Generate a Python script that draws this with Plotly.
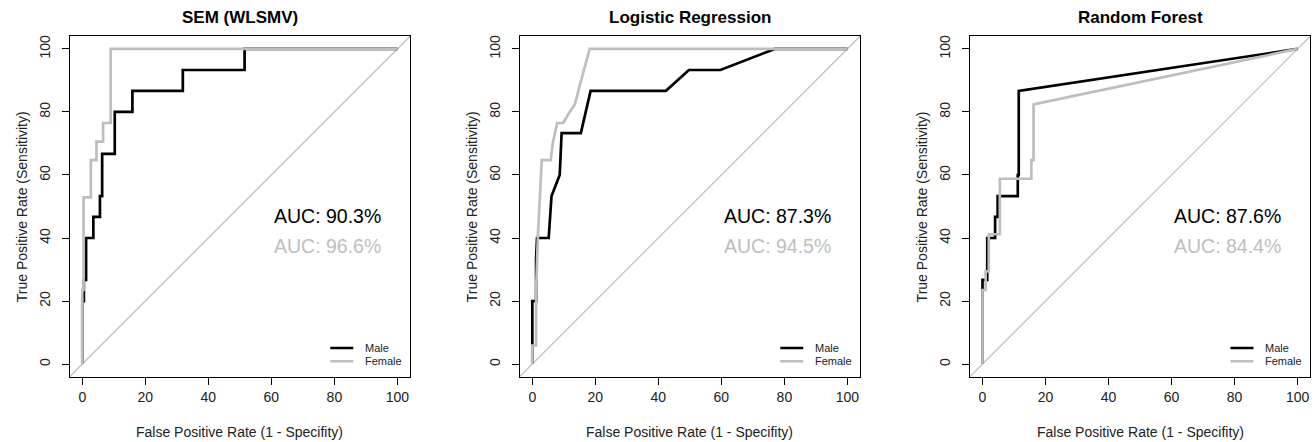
import plotly.graph_objects as go

# ---------------- data ----------------
MODELS = ["SEM (WLSMV)", "Logistic Regression", "Random Forest"]
GROUPS = ["Male", "Female"]
AUC_MALE = [90.3, 87.3, 87.6]
AUC_FEMALE = [96.6, 94.5, 84.4]
TICKS = [0, 20, 40, 60, 80, 100]

SEM_MALE_FPR = [0, 0, 0.5, 0.5, 1.2, 1.2, 3.5, 3.5, 5.6, 5.6, 6.3, 6.3, 10.3, 10.3, 15.9, 15.9, 31.9, 31.9, 51.5, 51.5, 100]
SEM_MALE_TPR = [0, 20, 20, 26.7, 26.7, 40, 40, 46.7, 46.7, 53.3, 53.3, 66.7, 66.7, 80, 80, 86.7, 86.7, 93.3, 93.3, 100, 100]
SEM_FEMALE_FPR = [0, 0, 0.4, 0.4, 2.7, 2.7, 4.5, 4.5, 6.6, 6.6, 9.0, 9.0, 100]
SEM_FEMALE_TPR = [0, 23.5, 23.5, 52.9, 52.9, 64.7, 64.7, 70.6, 70.6, 76.5, 76.5, 100, 100]

LR_MALE_FPR = [0, 0, 1.2, 1.2, 1.5, 5.2, 6.1, 8.7, 9.3, 15.4, 18.5, 42.4, 49.7, 59.7, 77.0, 100]
LR_MALE_TPR = [0, 20, 20, 33.3, 40, 40, 53.3, 60, 73.3, 73.3, 86.7, 86.7, 93.3, 93.3, 100, 100]
LR_FEMALE_FPR = [0, 0, 1.2, 1.2, 1.8, 2.4, 3.0, 5.8, 6.6, 7.9, 9.8, 11.5, 13.5, 15.0, 18.2, 100]
LR_FEMALE_TPR = [0, 5.9, 5.9, 23.5, 41.2, 52.9, 64.7, 64.7, 70.6, 76.5, 76.5, 79.4, 82.4, 88.2, 100, 100]

RF_MALE_FPR = [0, 0, 1.5, 1.5, 4.0, 4.0, 4.8, 4.8, 11.2, 11.2, 11.5, 11.5, 100]
RF_MALE_TPR = [0, 26.7, 26.7, 40, 40, 46.7, 46.7, 53.3, 53.3, 60, 60, 86.7, 100]
RF_FEMALE_FPR = [0, 0, 1.0, 1.0, 2.0, 2.0, 5.5, 5.5, 15.5, 15.5, 16.2, 16.2, 100]
RF_FEMALE_TPR = [0, 23.5, 23.5, 29.4, 29.4, 41.2, 41.2, 58.8, 58.8, 64.7, 64.7, 82.4, 100]

CURVES = [
    ((SEM_MALE_FPR, SEM_MALE_TPR), (SEM_FEMALE_FPR, SEM_FEMALE_TPR)),
    ((LR_MALE_FPR, LR_MALE_TPR), (LR_FEMALE_FPR, LR_FEMALE_TPR)),
    ((RF_MALE_FPR, RF_MALE_TPR), (RF_FEMALE_FPR, RF_FEMALE_TPR)),
]

# ---------------- style ----------------
W, H = 1315, 442
FONT = "Liberation Sans, Arial, Helvetica, sans-serif"
COLORS = {"Male": "#000000", "Female": "#BEBEBE"}
RANGE = [-4, 104]
BOX_LEFT = [69.7, 519.7, 969.9]
BOX_W = 340.3
BOX_TOP, BOX_BOTTOM = 36.3, 376.7

fig = go.Figure()
annotations = []
shapes = []

for i, model in enumerate(MODELS):
    k = "" if i == 0 else str(i + 1)
    xa, ya = "x" + k, "y" + k
    x0 = BOX_LEFT[i] / W
    x1 = (BOX_LEFT[i] + BOX_W) / W
    fig.update_layout(**{
        "xaxis" + k: dict(domain=[x0, x1], range=RANGE, tickvals=TICKS, ticks="outside", ticklen=7,
                          tickwidth=1, tickcolor="#000", showline=True, mirror=True, linecolor="#000",
                          linewidth=1, showgrid=False, zeroline=False, anchor=ya,
                          tickfont=dict(size=14, color="#222", family=FONT)),
        "yaxis" + k: dict(domain=[1 - BOX_BOTTOM / H, 1 - BOX_TOP / H], range=RANGE, tickvals=TICKS,
                          ticks="outside", ticklen=7, tickwidth=1, tickcolor="#000", showline=True,
                          mirror=True, linecolor="#000", linewidth=1, showgrid=False, zeroline=False,
                          anchor=xa, tickangle=-90, ticklabelstandoff=6,
                          tickfont=dict(size=14, color="#222", family=FONT)),
    })
    # chance diagonal
    fig.add_trace(go.Scatter(x=RANGE, y=RANGE, mode="lines", xaxis=xa, yaxis=ya,
                             line=dict(color="#BEBEBE", width=1.2), showlegend=False, hoverinfo="skip"))
    for g, (fx, ty) in zip(GROUPS, CURVES[i]):
        fig.add_trace(go.Scatter(x=fx, y=ty, mode="lines", name=g, xaxis=xa, yaxis=ya,
                                 line=dict(color=COLORS[g], width=2.7), showlegend=False))
    # AUC text
    annotations.append(dict(x=95.5, y=47.0, xref=xa, yref=ya, text=f"AUC: {AUC_MALE[i]:.1f}%",
                            showarrow=False, xanchor="right", yanchor="middle",
                            font=dict(size=19.5, color="#000", family=FONT)))
    annotations.append(dict(x=95.5, y=37.4, xref=xa, yref=ya, text=f"AUC: {AUC_FEMALE[i]:.1f}%",
                            showarrow=False, xanchor="right", yanchor="middle",
                            font=dict(size=19.5, color="#BEBEBE", family=FONT)))
    # legend (bottom right)
    for j, (g, ly) in enumerate(zip(GROUPS, [5.1, 0.9])):
        shapes.append(dict(type="line", xref=xa, yref=ya, x0=78.7, x1=86.0, y0=ly, y1=ly,
                           line=dict(color=COLORS[g], width=2.6)))
        annotations.append(dict(x=89.0, y=ly, xref=xa, yref=ya, text=g, showarrow=False,
                                xanchor="left", yanchor="middle",
                                font=dict(size=11, color="#222", family=FONT)))
    # panel title
    cx = (BOX_LEFT[i] + BOX_W / 2) / W
    annotations.append(dict(x=cx, y=1 - 18 / H, xref="paper", yref="paper", text=f"<b>{model}</b>",
                            showarrow=False, xanchor="center", yanchor="middle",
                            font=dict(size=17, color="#000", family=FONT)))
    # axis titles
    annotations.append(dict(x=cx, y=1 - 431.5 / H, xref="paper", yref="paper",
                            text="False Positive Rate (1 - Specifity)", showarrow=False,
                            xanchor="center", yanchor="middle",
                            font=dict(size=14, color="#222", family=FONT)))
    annotations.append(dict(x=(BOX_LEFT[i] - 48) / W, y=1 - (BOX_TOP + BOX_BOTTOM) / 2 / H,
                            xref="paper", yref="paper", text="True Positive Rate (Sensitivity)",
                            showarrow=False, textangle=-90, xanchor="center", yanchor="middle",
                            font=dict(size=14, color="#222", family=FONT)))

fig.update_layout(width=W, height=H, margin=dict(l=0, r=0, t=0, b=0),
                  paper_bgcolor="white", plot_bgcolor="white",
                  annotations=annotations, shapes=shapes, showlegend=False,
                  font=dict(family=FONT))
fig.write_html("out.html", config={"displayModeBar": False},
               post_script="document.body.style.margin='0px';document.body.style.overflow='hidden';")
